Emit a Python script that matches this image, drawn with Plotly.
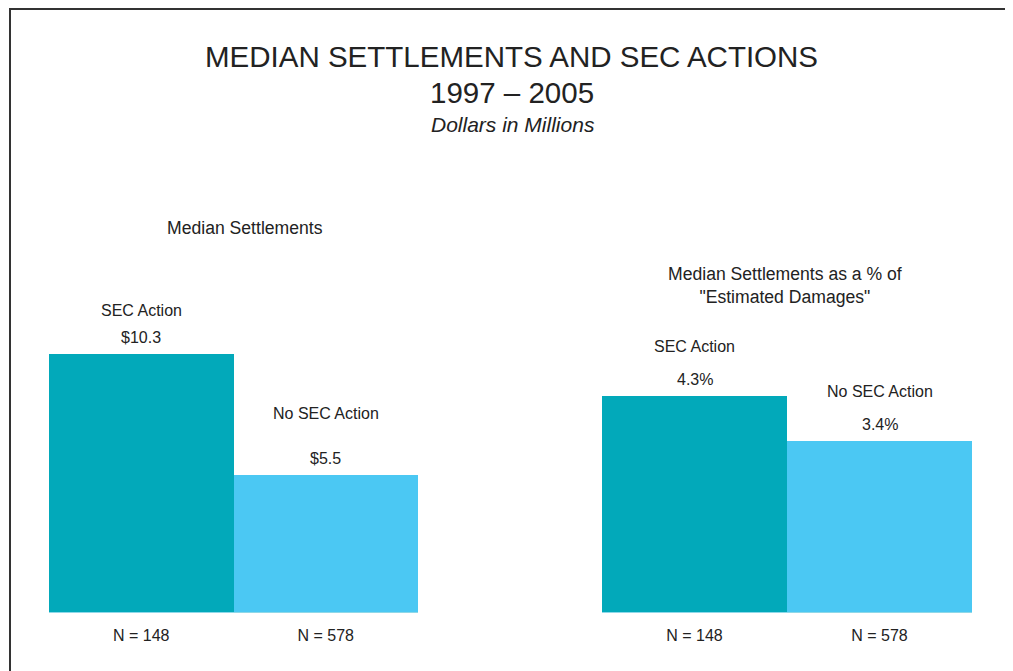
import plotly.graph_objects as go

# ---- data ----
categories = ["SEC Action", "No SEC Action"]
n_labels = ["N = 148", "N = 578"]
median_settlements = [10.3, 5.5]
settlement_labels = ["$10.3", "$5.5"]
pct_of_damages = [4.3, 3.4]
pct_labels = ["4.3%", "3.4%"]
bar_colors = ["#02A9BA", "#4BC8F3"]

OFF = 8  # page body margin
W, H = 1013 - OFF, 671 - OFF
FONT = "Liberation Sans, Arial, Helvetica, sans-serif"
TXT = "#222222"

def px_x(p):
    return (p - OFF) / W

def px_y(p):
    return 1 - (p - OFF) / H

xpos = list(range(len(categories)))

fig = go.Figure()
fig.add_trace(go.Bar(x=xpos, y=median_settlements, width=1, marker=dict(color=bar_colors, line=dict(width=0)),
                     xaxis="x", yaxis="y", showlegend=False, hoverinfo="skip"))
fig.add_trace(go.Bar(x=xpos, y=pct_of_damages, width=1, marker=dict(color=bar_colors, line=dict(width=0)),
                     xaxis="x2", yaxis="y2", showlegend=False, hoverinfo="skip"))

ybase = px_y(612)
ytop = 0.8
axis_h = (ytop - ybase) * H

common_x = dict(range=[-0.5, 1.5], tickvals=xpos, ticktext=n_labels, showgrid=False, zeroline=False,
                showline=True, linecolor="#8FD8E8", linewidth=1, ticks="", ticklabelstandoff=9,
                tickfont=dict(family=FONT, size=16, color=TXT), fixedrange=True)
common_y = dict(showgrid=False, zeroline=False, showticklabels=False, showline=False, fixedrange=True,
                domain=[ybase, ytop])

fig.update_layout(
    width=W, height=H,
    margin=dict(l=0, r=0, t=0, b=0),
    paper_bgcolor="white", plot_bgcolor="white",
    bargap=0,
    font=dict(family=FONT, color=TXT),
    xaxis=dict(domain=[px_x(49), px_x(418)], anchor="y", **common_x),
    xaxis2=dict(domain=[px_x(602), px_x(972)], anchor="y2", **common_x),
    yaxis=dict(range=[0, axis_h / 25.05], anchor="x", **common_y),
    yaxis2=dict(range=[0, axis_h / 50.4], anchor="x2", **common_y),
)

ann = []
# main titles
ann.append(dict(text="MEDIAN SETTLEMENTS AND SEC ACTIONS", x=px_x(512), y=px_y(57), font=dict(size=29.5)))
ann.append(dict(text="1997 \u2013 2005", x=px_x(512), y=px_y(92), font=dict(size=29.5)))
ann.append(dict(text="<i>Dollars in Millions</i>", x=px_x(513), y=px_y(124), font=dict(size=21)))
# panel titles
ann.append(dict(text="Median Settlements", x=px_x(245), y=px_y(228), font=dict(size=17.6)))
ann.append(dict(text="Median Settlements as a % of<br>\"Estimated Damages\"", x=px_x(785), y=px_y(285),
                font=dict(size=17.6)))
for a in ann:
    a.update(xref="paper", yref="paper", xanchor="center", yanchor="middle", showarrow=False)
    a["font"].update(family=FONT, color=TXT)

name_shift_left = [43, 61]
name_shift_right = [49, 49]
for i in xpos:
    ann.append(dict(text=settlement_labels[i], x=i, y=median_settlements[i], xref="x", yref="y",
                    yshift=16, font=dict(size=16, family=FONT, color=TXT)))
    ann.append(dict(text=categories[i], x=i, y=median_settlements[i], xref="x", yref="y",
                    yshift=name_shift_left[i], font=dict(size=16, family=FONT, color=TXT)))
    ann.append(dict(text=pct_labels[i], x=i, y=pct_of_damages[i], xref="x2", yref="y2",
                    yshift=16, font=dict(size=16, family=FONT, color=TXT)))
    ann.append(dict(text=categories[i], x=i, y=pct_of_damages[i], xref="x2", yref="y2",
                    yshift=name_shift_right[i], font=dict(size=16, family=FONT, color=TXT)))
for a in ann[5:]:
    a.update(xanchor="center", yanchor="middle", showarrow=False)

fig.update_layout(annotations=ann)

# frame around the chart (right and bottom edges fall outside the page)
fig.add_shape(type="rect", xref="paper", yref="paper", x0=2 / W, x1=1.05, y0=-0.05, y1=1 - 1 / H,
              line=dict(color="#333333", width=2), fillcolor="rgba(0,0,0,0)", layer="above")

fig.write_html("out.html", config={"displayModeBar": False},
               post_script="document.documentElement.style.overflow='hidden';document.body.style.overflow='hidden';")
